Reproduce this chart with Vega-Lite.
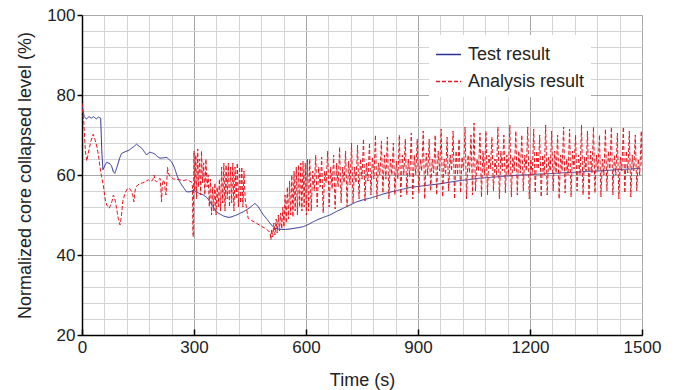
{
"$schema": "https://vega.github.io/schema/vega-lite/v6.json",
"width": 560, "height": 320,
"autosize": {"type": "none"},
"padding": {"left": 82, "top": 15, "right": 38, "bottom": 55},
"background": "white",
"config": {
  "view": {"stroke": null},
  "font": "Liberation Sans",
  "legend": {"orient": "none", "legendX": 347, "legendY": 20, "fillColor": "white", "padding": 6, "symbolType": "stroke", "symbolSize": 625, "symbolStrokeWidth": 1.3, "labelFontSize": 18, "labelColor": "#222", "labelOffset": 6, "rowPadding": 4, "labelLimit": 300}
},
"data": {"values": [
{"s":"T","t":0,"v":77.5},{"s":"T","t":3,"v":76},{"s":"T","t":6,"v":74.6},{"s":"T","t":12,"v":74},{"s":"T","t":19,"v":74.6},{"s":"T","t":25,"v":74.2},{"s":"T","t":31,"v":74.6},{"s":"T","t":38,"v":74},{"s":"T","t":44,"v":74.5},{"s":"T","t":50,"v":74.2},{"s":"T","t":53,"v":66},{"s":"T","t":56,"v":61.3},{"s":"T","t":62,"v":62.5},{"s":"T","t":66,"v":63.2},{"s":"T","t":70,"v":63},{"s":"T","t":75,"v":62.8},{"s":"T","t":79,"v":62.3},{"s":"T","t":84,"v":60.8},{"s":"T","t":88,"v":60.4},{"s":"T","t":92,"v":61.5},{"s":"T","t":97,"v":63},{"s":"T","t":102,"v":64.5},{"s":"T","t":106,"v":65.4},{"s":"T","t":113,"v":65.7},{"s":"T","t":120,"v":66},{"s":"T","t":126,"v":66.2},{"s":"T","t":133,"v":66.7},{"s":"T","t":140,"v":67.2},{"s":"T","t":146,"v":67.7},{"s":"T","t":153,"v":67.2},{"s":"T","t":160,"v":66.7},{"s":"T","t":167,"v":65.8},{"s":"T","t":173,"v":65},{"s":"T","t":178,"v":65.5},{"s":"T","t":182,"v":65.7},{"s":"T","t":189,"v":65.5},{"s":"T","t":196,"v":65.2},{"s":"T","t":202,"v":64.6},{"s":"T","t":209,"v":64.2},{"s":"T","t":218,"v":64.3},{"s":"T","t":227,"v":64.4},{"s":"T","t":234,"v":63.8},{"s":"T","t":240,"v":63.3},{"s":"T","t":247,"v":62},{"s":"T","t":254,"v":60},{"s":"T","t":260,"v":58.6},{"s":"T","t":267,"v":57.5},{"s":"T","t":274,"v":56.6},{"s":"T","t":280,"v":55.8},{"s":"T","t":290,"v":55.8},{"s":"T","t":298,"v":56.2},{"s":"T","t":312,"v":55.5},{"s":"T","t":325,"v":55},{"s":"T","t":335,"v":54.3},{"s":"T","t":343,"v":53.3},{"s":"T","t":350,"v":52.2},{"s":"T","t":356,"v":51.25},{"s":"T","t":365,"v":50.5},{"s":"T","t":379,"v":49.75},{"s":"T","t":388,"v":49.5},{"s":"T","t":396,"v":49.4},{"s":"T","t":405,"v":49.7},{"s":"T","t":414,"v":50},{"s":"T","t":423,"v":50.4},{"s":"T","t":432,"v":50.8},{"s":"T","t":441,"v":51.3},{"s":"T","t":450,"v":51.9},{"s":"T","t":457,"v":52.4},{"s":"T","t":463,"v":52.9},{"s":"T","t":468,"v":52.5},{"s":"T","t":472,"v":52.1},{"s":"T","t":479,"v":51},{"s":"T","t":486,"v":50},{"s":"T","t":495,"v":49},{"s":"T","t":504,"v":47.9},{"s":"T","t":510,"v":47.2},{"s":"T","t":517,"v":46.7},{"s":"T","t":526,"v":46.5},{"s":"T","t":535,"v":46.4},{"s":"T","t":545,"v":46.4},{"s":"T","t":557,"v":46.5},{"s":"T","t":570,"v":46.7},{"s":"T","t":584,"v":46.9},{"s":"T","t":593,"v":47.1},{"s":"T","t":606,"v":47.6},{"s":"T","t":617,"v":48.2},{"s":"T","t":629,"v":48.75},{"s":"T","t":646,"v":49.4},{"s":"T","t":664,"v":50},{"s":"T","t":682,"v":50.9},{"s":"T","t":700,"v":51.7},{"s":"T","t":718,"v":52.5},{"s":"T","t":736,"v":53.3},{"s":"T","t":753,"v":53.8},{"s":"T","t":771,"v":54.2},{"s":"T","t":789,"v":54.7},{"s":"T","t":807,"v":55.25},{"s":"T","t":825,"v":55.7},{"s":"T","t":843,"v":56.1},{"s":"T","t":861,"v":56.5},{"s":"T","t":879,"v":56.9},{"s":"T","t":905,"v":57.2},{"s":"T","t":932,"v":57.5},{"s":"T","t":959,"v":57.8},{"s":"T","t":985,"v":58.2},{"s":"T","t":1012,"v":58.6},{"s":"T","t":1039,"v":58.9},{"s":"T","t":1066,"v":59.2},{"s":"T","t":1093,"v":59.4},{"s":"T","t":1120,"v":59.6},{"s":"T","t":1146,"v":59.8},{"s":"T","t":1173,"v":60},{"s":"T","t":1204,"v":60.1},{"s":"T","t":1235,"v":60.3},{"s":"T","t":1265,"v":60.4},{"s":"T","t":1295,"v":60.6},{"s":"T","t":1325,"v":60.7},{"s":"T","t":1355,"v":60.9},{"s":"T","t":1385,"v":61},{"s":"T","t":1414,"v":61.2},{"s":"T","t":1445,"v":61.4},{"s":"T","t":1470,"v":61.5},{"s":"T","t":1495,"v":61.7},
{"s":"A","t":0,"v":78},{"s":"A","t":2,"v":76},{"s":"A","t":5,"v":73},{"s":"A","t":9,"v":66},{"s":"A","t":13,"v":63.5},{"s":"A","t":18,"v":66},{"s":"A","t":24,"v":68.5},{"s":"A","t":30,"v":70.2},{"s":"A","t":35,"v":68.8},{"s":"A","t":40,"v":67},{"s":"A","t":44,"v":65},{"s":"A","t":50,"v":60.8},{"s":"A","t":57,"v":57.5},{"s":"A","t":62,"v":54},{"s":"A","t":66,"v":52.5},{"s":"A","t":73,"v":51.7},{"s":"A","t":80,"v":53.3},{"s":"A","t":84,"v":55},{"s":"A","t":88,"v":54},{"s":"A","t":91,"v":52.5},{"s":"A","t":97,"v":49.2},{"s":"A","t":102,"v":47.5},{"s":"A","t":106,"v":50},{"s":"A","t":109,"v":53.3},{"s":"A","t":115,"v":55.4},{"s":"A","t":121,"v":56.5},{"s":"A","t":127,"v":56.7},{"s":"A","t":132,"v":56},{"s":"A","t":136,"v":55},{"s":"A","t":139,"v":53.3},{"s":"A","t":142,"v":56},{"s":"A","t":145,"v":57.1},{"s":"A","t":150,"v":57.5},{"s":"A","t":155,"v":57.9},{"s":"A","t":162,"v":58},{"s":"A","t":169,"v":58.3},{"s":"A","t":174,"v":58.6},{"s":"A","t":178,"v":58.8},{"s":"A","t":183,"v":58.4},{"s":"A","t":187,"v":58.5},{"s":"A","t":190,"v":58.9},{"s":"A","t":193,"v":60},{"s":"A","t":196,"v":58.6},{"s":"A","t":200,"v":58.3},{"s":"A","t":205,"v":58.8},{"s":"A","t":209,"v":59.2},{"s":"A","t":211,"v":57},{"s":"A","t":213,"v":53.3},{"s":"A","t":215,"v":57.5},{"s":"A","t":218,"v":58.8},{"s":"A","t":221,"v":58},{"s":"A","t":223,"v":56},{"s":"A","t":225,"v":55},{"s":"A","t":227,"v":58},{"s":"A","t":229,"v":61.9},{"s":"A","t":231,"v":60.5},{"s":"A","t":236,"v":59.6},{"s":"A","t":245,"v":59},{"s":"A","t":254,"v":58.9},{"s":"A","t":262,"v":58.8},{"s":"A","t":271,"v":58.6},{"s":"A","t":280,"v":58.8},{"s":"A","t":288,"v":58.5},{"s":"A","t":294,"v":58.2},{"s":"A","t":296,"v":57},{"s":"A","t":297,"v":46},{"s":"A","t":298,"v":44.5},{"s":"A","t":299,"v":58},
{"s":"A","t":300,"v":66},{"s":"A","t":302,"v":56},{"s":"A","t":305,"v":65},{"s":"A","t":307,"v":54},{"s":"A","t":310,"v":66.5},{"s":"A","t":312,"v":57},{"s":"A","t":315,"v":64},{"s":"A","t":318,"v":55},{"s":"A","t":320,"v":66},{"s":"A","t":323,"v":58},{"s":"A","t":326,"v":63},{"s":"A","t":329,"v":55},{"s":"A","t":332,"v":64},{"s":"A","t":335,"v":57},{"s":"A","t":338,"v":60},{"s":"A","t":341,"v":52},{"s":"A","t":344,"v":59},{"s":"A","t":347,"v":50},{"s":"A","t":350,"v":57},{"s":"A","t":353,"v":51},{"s":"A","t":356,"v":58},{"s":"A","t":359,"v":50},{"s":"A","t":362,"v":57},{"s":"A","t":365,"v":52},{"s":"A","t":368,"v":59},{"s":"A","t":371,"v":51},{"s":"A","t":374,"v":62},{"s":"A","t":377,"v":53},{"s":"A","t":380,"v":63},{"s":"A","t":383,"v":51},{"s":"A","t":386,"v":62.5},{"s":"A","t":389,"v":54},{"s":"A","t":392,"v":63},{"s":"A","t":395,"v":52},{"s":"A","t":398,"v":62},{"s":"A","t":401,"v":53},{"s":"A","t":404,"v":63},{"s":"A","t":407,"v":51},{"s":"A","t":410,"v":62},{"s":"A","t":413,"v":54},{"s":"A","t":416,"v":63},{"s":"A","t":419,"v":52},{"s":"A","t":422,"v":62},{"s":"A","t":425,"v":53},{"s":"A","t":428,"v":62},{"s":"A","t":431,"v":52},{"s":"A","t":434,"v":61},{"s":"A","t":437,"v":54},{"s":"A","t":440,"v":52},{"s":"A","t":445,"v":49.2},{"s":"A","t":455,"v":48.6},{"s":"A","t":468,"v":47.9},{"s":"A","t":480,"v":47.2},{"s":"A","t":490,"v":46.7},{"s":"A","t":500,"v":46},{"s":"A","t":504,"v":45.5},{"s":"A","t":506,"v":43.8},{"s":"A","t":508,"v":46.5},{"s":"A","t":511,"v":44.5},{"s":"A","t":514,"v":48},{"s":"A","t":517,"v":45},{"s":"A","t":520,"v":49},{"s":"A","t":523,"v":45.5},{"s":"A","t":526,"v":50},{"s":"A","t":529,"v":46},{"s":"A","t":532,"v":50.5},{"s":"A","t":535,"v":46.5},{"s":"A","t":538,"v":52},{"s":"A","t":541,"v":47},{"s":"A","t":544,"v":55},{"s":"A","t":547,"v":48},{"s":"A","t":550,"v":57},{"s":"A","t":553,"v":49},{"s":"A","t":556,"v":58.5},{"s":"A","t":559,"v":50},{"s":"A","t":562,"v":60},{"s":"A","t":565,"v":49.5},{"s":"A","t":568,"v":61},{"s":"A","t":571,"v":51},{"s":"A","t":574,"v":62},{"s":"A","t":577,"v":50},{"s":"A","t":580,"v":62.5},{"s":"A","t":583,"v":52},{"s":"A","t":586,"v":63},{"s":"A","t":589,"v":51},{"s":"A","t":592,"v":63.5},{"s":"A","t":595,"v":52},{"s":"A","t":598,"v":63},{"s":"A","t":601,"v":50},{"s":"A","t":604,"v":64},{"s":"A","t":607,"v":51},
{"s":"A","t":610,"v":64},{"s":"A","t":614,"v":51},{"s":"A","t":618,"v":61},{"s":"A","t":622,"v":56},{"s":"A","t":626,"v":65},{"s":"A","t":630,"v":52},{"s":"A","t":634,"v":62},{"s":"A","t":638,"v":57},{"s":"A","t":642,"v":64.5},{"s":"A","t":646,"v":50.5},{"s":"A","t":650,"v":61},{"s":"A","t":654,"v":58},{"s":"A","t":658,"v":66},{"s":"A","t":662,"v":52},{"s":"A","t":666,"v":62},{"s":"A","t":670,"v":56.5},{"s":"A","t":674,"v":65},{"s":"A","t":678,"v":51.5},{"s":"A","t":682,"v":63},{"s":"A","t":686,"v":57},{"s":"A","t":690,"v":67},{"s":"A","t":694,"v":53},{"s":"A","t":698,"v":62},{"s":"A","t":702,"v":58},{"s":"A","t":706,"v":66},{"s":"A","t":710,"v":52},{"s":"A","t":714,"v":63.5},{"s":"A","t":718,"v":57.5},{"s":"A","t":722,"v":68},{"s":"A","t":726,"v":53},{"s":"A","t":730,"v":62},{"s":"A","t":734,"v":58},{"s":"A","t":738,"v":67.5},{"s":"A","t":742,"v":54},{"s":"A","t":746,"v":64},{"s":"A","t":750,"v":59},{"s":"A","t":754,"v":69},{"s":"A","t":758,"v":53.5},{"s":"A","t":762,"v":63},{"s":"A","t":766,"v":58.5},{"s":"A","t":770,"v":68},{"s":"A","t":774,"v":55},{"s":"A","t":778,"v":64.5},{"s":"A","t":782,"v":59},{"s":"A","t":786,"v":70},{"s":"A","t":790,"v":54},{"s":"A","t":794,"v":63},{"s":"A","t":798,"v":60},{"s":"A","t":802,"v":68.5},{"s":"A","t":806,"v":55.5},{"s":"A","t":810,"v":65},{"s":"A","t":814,"v":59},{"s":"A","t":818,"v":69.5},{"s":"A","t":822,"v":54},{"s":"A","t":826,"v":64},{"s":"A","t":830,"v":60},{"s":"A","t":834,"v":68},{"s":"A","t":838,"v":55},{"s":"A","t":842,"v":63.5},{"s":"A","t":846,"v":59},{"s":"A","t":850,"v":70},{"s":"A","t":854,"v":54.5},{"s":"A","t":858,"v":65},{"s":"A","t":862,"v":60},{"s":"A","t":866,"v":69},{"s":"A","t":870,"v":55},{"s":"A","t":874,"v":64},{"s":"A","t":878,"v":59.5},{"s":"A","t":882,"v":70.5},{"s":"A","t":886,"v":54},{"s":"A","t":890,"v":65},{"s":"A","t":894,"v":60},{"s":"A","t":898,"v":69},{"s":"A","t":902,"v":55.5},{"s":"A","t":906,"v":64},{"s":"A","t":910,"v":61},{"s":"A","t":914,"v":71},{"s":"A","t":918,"v":54},{"s":"A","t":922,"v":65.5},{"s":"A","t":926,"v":60},{"s":"A","t":930,"v":69},{"s":"A","t":934,"v":56},{"s":"A","t":938,"v":64},{"s":"A","t":942,"v":60.5},{"s":"A","t":946,"v":70},{"s":"A","t":950,"v":55},{"s":"A","t":954,"v":66},{"s":"A","t":958,"v":61},{"s":"A","t":962,"v":71.5},{"s":"A","t":966,"v":54.5},{"s":"A","t":970,"v":64},{"s":"A","t":974,"v":60},{"s":"A","t":978,"v":69.5},{"s":"A","t":982,"v":56},{"s":"A","t":986,"v":65},{"s":"A","t":990,"v":61},{"s":"A","t":994,"v":71},{"s":"A","t":998,"v":54},{"s":"A","t":1002,"v":66},{"s":"A","t":1006,"v":60},{"s":"A","t":1010,"v":69},{"s":"A","t":1014,"v":55.5},{"s":"A","t":1018,"v":64.5},{"s":"A","t":1022,"v":61},{"s":"A","t":1026,"v":72},{"s":"A","t":1030,"v":54},{"s":"A","t":1034,"v":65},{"s":"A","t":1038,"v":60.5},{"s":"A","t":1042,"v":70},{"s":"A","t":1046,"v":55},{"s":"A","t":1050,"v":73},{"s":"A","t":1054,"v":56},{"s":"A","t":1058,"v":64},{"s":"A","t":1062,"v":61},{"s":"A","t":1066,"v":70.5},{"s":"A","t":1070,"v":54.5},{"s":"A","t":1074,"v":66},{"s":"A","t":1078,"v":60},{"s":"A","t":1082,"v":71},{"s":"A","t":1086,"v":55},{"s":"A","t":1090,"v":65},{"s":"A","t":1094,"v":61.5},{"s":"A","t":1098,"v":69.5},{"s":"A","t":1102,"v":56},{"s":"A","t":1106,"v":64},{"s":"A","t":1110,"v":60},{"s":"A","t":1114,"v":72},{"s":"A","t":1118,"v":54},{"s":"A","t":1122,"v":66},{"s":"A","t":1126,"v":61},{"s":"A","t":1130,"v":70},{"s":"A","t":1134,"v":55.5},{"s":"A","t":1138,"v":65},{"s":"A","t":1142,"v":60},{"s":"A","t":1146,"v":72.5},{"s":"A","t":1150,"v":54.5},{"s":"A","t":1154,"v":64.5},{"s":"A","t":1158,"v":61},{"s":"A","t":1162,"v":71},{"s":"A","t":1166,"v":55},{"s":"A","t":1170,"v":66},{"s":"A","t":1174,"v":60.5},{"s":"A","t":1178,"v":70},{"s":"A","t":1182,"v":56},{"s":"A","t":1186,"v":65},{"s":"A","t":1190,"v":61},{"s":"A","t":1194,"v":72},{"s":"A","t":1198,"v":54},{"s":"A","t":1202,"v":64},{"s":"A","t":1206,"v":60},{"s":"A","t":1210,"v":71.5},{"s":"A","t":1214,"v":55.5},{"s":"A","t":1218,"v":66},{"s":"A","t":1222,"v":61.5},{"s":"A","t":1226,"v":70},{"s":"A","t":1230,"v":54.5},{"s":"A","t":1234,"v":65},{"s":"A","t":1238,"v":60},{"s":"A","t":1242,"v":72.5},{"s":"A","t":1246,"v":55},{"s":"A","t":1250,"v":64.5},{"s":"A","t":1254,"v":61},{"s":"A","t":1258,"v":71},{"s":"A","t":1262,"v":56},{"s":"A","t":1266,"v":66},{"s":"A","t":1270,"v":60.5},{"s":"A","t":1274,"v":70},{"s":"A","t":1278,"v":54},{"s":"A","t":1282,"v":65},{"s":"A","t":1286,"v":61},{"s":"A","t":1290,"v":72},{"s":"A","t":1294,"v":55.5},{"s":"A","t":1298,"v":64},{"s":"A","t":1302,"v":60},{"s":"A","t":1306,"v":71.5},{"s":"A","t":1310,"v":54.5},{"s":"A","t":1314,"v":66},{"s":"A","t":1318,"v":61.5},{"s":"A","t":1322,"v":70},{"s":"A","t":1326,"v":56},{"s":"A","t":1330,"v":65},{"s":"A","t":1334,"v":60},{"s":"A","t":1338,"v":72.5},{"s":"A","t":1342,"v":55},{"s":"A","t":1346,"v":64.5},{"s":"A","t":1350,"v":61},{"s":"A","t":1354,"v":71},{"s":"A","t":1358,"v":54},{"s":"A","t":1362,"v":66},{"s":"A","t":1366,"v":60.5},{"s":"A","t":1370,"v":72},{"s":"A","t":1374,"v":55.5},{"s":"A","t":1378,"v":65},{"s":"A","t":1382,"v":61},{"s":"A","t":1386,"v":70},{"s":"A","t":1390,"v":54.5},{"s":"A","t":1394,"v":64},{"s":"A","t":1398,"v":60},{"s":"A","t":1402,"v":71.5},{"s":"A","t":1406,"v":56},{"s":"A","t":1410,"v":66},{"s":"A","t":1414,"v":61.5},{"s":"A","t":1418,"v":72},{"s":"A","t":1422,"v":55},{"s":"A","t":1426,"v":65},{"s":"A","t":1430,"v":60},{"s":"A","t":1434,"v":70.5},{"s":"A","t":1438,"v":54},{"s":"A","t":1442,"v":64.5},{"s":"A","t":1446,"v":61},{"s":"A","t":1450,"v":72},{"s":"A","t":1454,"v":55.5},{"s":"A","t":1458,"v":66},{"s":"A","t":1462,"v":60.5},{"s":"A","t":1466,"v":71},{"s":"A","t":1470,"v":54.5},{"s":"A","t":1474,"v":65},{"s":"A","t":1478,"v":61},{"s":"A","t":1482,"v":70},{"s":"A","t":1486,"v":56},{"s":"A","t":1490,"v":64},{"s":"A","t":1494,"v":60},{"s":"A","t":1498,"v":71},{"s":"A","t":1500,"v":62}
]},
"mark": {"type": "line", "strokeWidth": 1, "clip": true},
"encoding": {
  "x": {"field": "t", "type": "quantitative", "scale": {"domain": [0, 1500], "nice": false, "zero": false},
    "axis": {"values": [0,60,120,180,240,300,360,420,480,540,600,660,720,780,840,900,960,1020,1080,1140,1200,1260,1320,1380,1440,1500],
      "title": "Time (s)", "format": "d",
      "labelExpr": "datum.value % 300 === 0 ? datum.label : ''",
      "grid": true, "gridColor": {"condition": {"test": "datum.value % 300 === 0", "value": "#a8a8a8"}, "value": "#d3d3d3"}, "gridWidth": 1,
      "tickOpacity": {"condition": {"test": "datum.value % 300 === 0", "value": 1}, "value": 0},
      "tickSize": -6, "tickColor": "#000", "tickWidth": 1.5,
      "domainColor": "#000", "domainWidth": 1.5,
      "labelFontSize": 17, "labelColor": "#222", "labelPadding": 10, "labelFlush": false, "labelOverlap": false,
      "titleFontSize": 18, "titleFontWeight": "normal", "titleColor": "#222", "titlePadding": 16}},
  "y": {"field": "v", "type": "quantitative", "scale": {"domain": [20, 100], "nice": false, "zero": false},
    "axis": {"values": [20,24,28,32,36,40,44,48,52,56,60,64,68,72,76,80,84,88,92,96,100],
      "title": "Normalized core collapsed level (%)",
      "labelExpr": "datum.value % 20 === 0 ? datum.label : ''",
      "grid": true, "gridColor": {"condition": {"test": "datum.value % 20 === 0", "value": "#a8a8a8"}, "value": "#d3d3d3"}, "gridWidth": 1,
      "tickOpacity": {"condition": {"test": "datum.value % 20 === 0", "value": 1}, "value": 0},
      "tickSize": 5, "tickColor": "#000", "tickWidth": 1.5,
      "domainColor": "#000", "domainWidth": 1.5,
      "labelFontSize": 17, "labelColor": "#222", "labelPadding": 2, "labelFlush": false, "labelOverlap": false,
      "titleFontSize": 18, "titleFontWeight": "normal", "titleColor": "#222", "titlePadding": 12}},
  "color": {"field": "s", "type": "nominal", "scale": {"domain": ["T", "A"], "range": ["#2e3192", "#e8161f"]},
    "legend": {"title": null, "labelExpr": "datum.label === 'T' ? 'Test result' : 'Analysis result'"}},
  "strokeDash": {"field": "s", "type": "nominal", "scale": {"domain": ["T", "A"], "range": [[1, 0], [4, 2]]},
    "legend": {"title": null, "labelExpr": "datum.label === 'T' ? 'Test result' : 'Analysis result'"}}
}
}
